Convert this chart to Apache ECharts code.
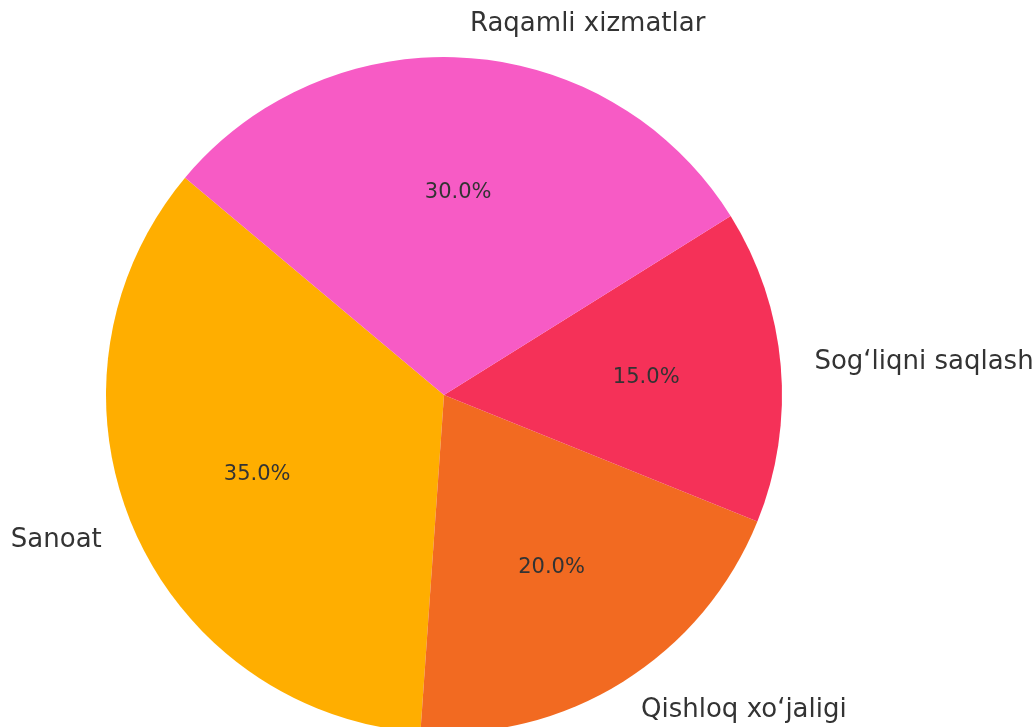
<!DOCTYPE html>
<html>
<head>
<meta charset="utf-8">
<script src="https://cdn.jsdelivr.net/npm/echarts@6/dist/echarts.min.js"></script>
<style>
html,body{margin:0;padding:0;background:#fff;}
#chart{width:1035px;height:727px;}
</style>
</head>
<body>
<div id="chart"></div>
<script>
const categories = ["Sanoat", "Qishloq xo\u2018jaligi", "Sog\u2018liqni saqlash", "Raqamli xizmatlar"];
const values = [35, 20, 15, 30];
const colors = ["#FFAE00", "#F26A21", "#F53158", "#F75BC5"];

const R = 338;
const center = [444, 395];
const fontFamily = "DejaVu Sans";

const data = categories.map((c, i) => ({ name: c, value: values[i], itemStyle: { color: colors[i] } }));
const dataPct = categories.map((c, i) => ({ name: c, value: values[i] }));

const chart = echarts.init(document.getElementById('chart'), null, { renderer: 'canvas' });
chart.setOption({
  animation: false,
  backgroundColor: '#ffffff',
  series: [
    {
      type: 'pie',
      center: center,
      radius: [0, R],
      startAngle: 140,
      clockwise: false,
      avoidLabelOverlap: false,
      silent: true,
      itemStyle: { borderWidth: 0 },
      label: {
        show: true,
        position: 'outside',
        color: '#333333',
        fontSize: 26,
        fontFamily: fontFamily,
        distanceToLabelLine: 0,
        alignTo: 'none'
      },
      labelLine: { show: false, length: R * 0.1, length2: 0 },
      emphasis: { disabled: true },
      data: data
    },
    {
      type: 'pie',
      center: center,
      radius: [62, R],
      startAngle: 140,
      clockwise: false,
      avoidLabelOverlap: false,
      silent: true,
      itemStyle: { color: 'rgba(0,0,0,0)', borderWidth: 0 },
      label: {
        show: true,
        position: 'inside',
        color: '#333333',
        fontSize: 21,
        fontFamily: fontFamily,
        formatter: p => p.percent.toFixed(1) + '%'
      },
      percentPrecision: 1,
      labelLine: { show: false },
      emphasis: { disabled: true },
      data: dataPct
    }
  ]
});
</script>
</body>
</html>
